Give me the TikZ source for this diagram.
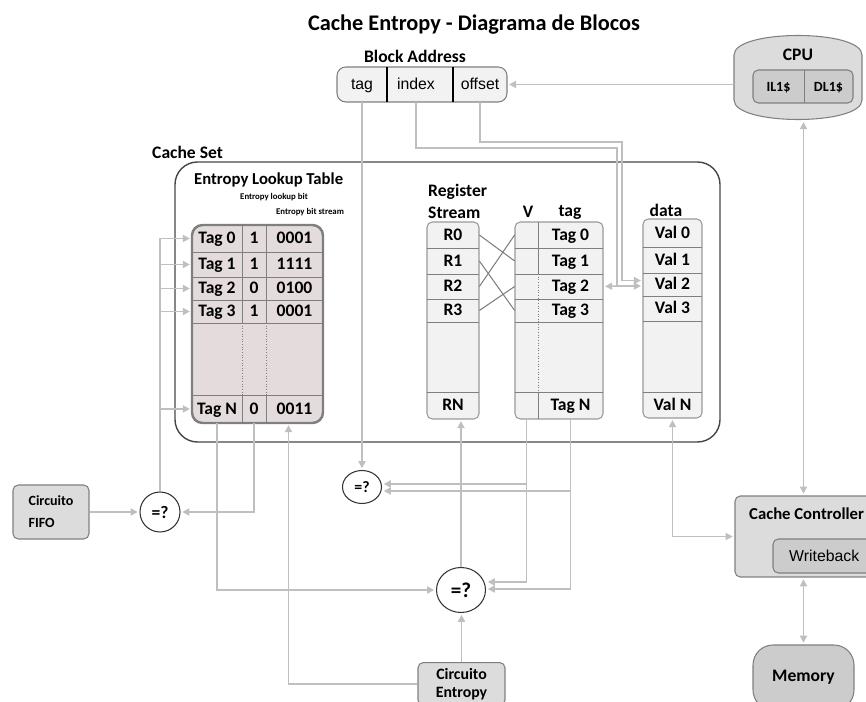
\documentclass[tikz,border=0pt]{standalone}
\usepackage{fontspec}
\setmainfont{Carlito}
\newfontfamily\arialf{Liberation Sans}
\usepackage{tikz}
\usetikzlibrary{shapes.geometric, arrows.meta, calc}
\definecolor{setacinza}{RGB}{191,191,191}
\definecolor{bordacinza}{RGB}{127,127,127}
\definecolor{fundoclaro}{RGB}{242,242,242}
\definecolor{fundocinza}{RGB}{220,220,220}
\definecolor{fundoescuro}{RGB}{204,204,204}
\definecolor{rosaclaro}{RGB}{228,220,220}
\definecolor{linhaescura}{RGB}{70,70,70}
\tikzset{
  seta/.style={setacinza, line width=0.9pt, shorten >=1pt, -{Triangle[length=4pt,width=4pt]}},
  setadupla/.style={seta, shorten <=1pt, {Triangle[length=4pt,width=4pt]}-{Triangle[length=4pt,width=4pt]}},
  fio/.style={setacinza, line width=0.9pt},
  cel/.style={inner sep=0pt, minimum width=#1, minimum height=0.4cm, text height=1.55ex, text depth=0.35ex},
  comp/.style={ellipse, draw=black!80, fill=white, inner sep=0pt, line width=0.6pt},
  caixa/.style={draw=bordacinza, fill=fundocinza, rounded corners=3pt, line width=0.6pt},
  grade/.style={bordacinza, line width=0.5pt},
}

\begin{document}
\begin{tikzpicture}[x=0.02cm, y=-0.02cm, font=\fontsize{10}{12.5}\selectfont\bfseries]
    \clip (0,0) rectangle (866,702);
    % titulo
    \node (titulo) at (474,25) {\fontsize{12.7}{15}\selectfont Cache Entropy - Diagrama de Blocos};
    % endereco do bloco
    \node (balbl) at (415,56) {Block Address};
    \draw[draw=bordacinza, fill=fundoclaro, rounded corners=5pt, line width=0.6pt] (337,67) rectangle (507,102);
    \draw[black, line width=1pt] (387,67) -- (387,102) (453,67) -- (453,102);
    \begin{scope}[font=\arialf\mdseries\fontsize{9}{11}\selectfont]
      \node[cel=1cm, minimum height=0.7cm] (bat) at (362,84.5) {tag};
      \node[cel=1.32cm, minimum height=0.7cm] (bai) at (416,84.5) {index};
      \node[cel=1.08cm, minimum height=0.7cm] (bao) at (480,84.5) {offset};
    \end{scope}
    % cpu
    \draw[draw=bordacinza, fill=fundocinza, line width=0.6pt] (734,55) -- (734,100) .. controls (734,126) and (862,126) .. (862,100) -- (862,55) .. controls (862,29) and (734,29) .. (734,55) -- cycle;
    \node[minimum width=2.56cm, minimum height=1.7cm] (cpu) at (798,77.5) {};
    \node (cpulbl) at (798,55) {CPU};
    \draw[draw=bordacinza, fill=fundoescuro, rounded corners=3pt, line width=0.6pt] (753,70) rectangle (853,103);
    \draw[grade] (804,70) -- (804,103);
    \node[cel=1.02cm, font=\fontsize{8}{10}\selectfont\bfseries] (il1) at (778.5,86.5) {IL1\$};
    \node[cel=0.98cm, font=\fontsize{8}{10}\selectfont\bfseries] (dl1) at (828.5,86.5) {DL1\$};
    % conjunto da cache
    \node[anchor=west] (cslbl) at (146,152) {Cache Set};
    \draw[linhaescura, line width=0.8pt, rounded corners=0.45cm] (175,162) rectangle (720,442);
    % tabela de entropia
    \node[anchor=west, font=\fontsize{9.5}{12}\selectfont\bfseries] (ltlbl) at (188,180) {Entropy Lookup Table};
    \node (ltbit) at (274,197) {\fontsize{5}{6}\selectfont Entropy lookup bit};
    \node (ltstr) at (310,212) {\fontsize{5}{6}\selectfont Entropy bit stream};
    \draw[draw=bordacinza, fill=rosaclaro, line width=1.4pt, rounded corners=6pt] (192,225) rectangle (323,423);
    \foreach \y in {252,277,300,323,395}
      \draw[grade] (192,\y) -- (323,\y);
    \foreach \x in {242,266} {
      \draw[grade] (\x,225) -- (\x,323) (\x,395) -- (\x,423);
      \draw[grade, densely dotted] (\x,323) -- (\x,395);
    }
    \foreach \n/\y/\b/\s in {0/238.5/1/0001, 1/264.5/1/1111, 2/288.5/0/0100, 3/311.5/1/0001} {
      \node[cel=1cm] (lt\n) at (217,\y) {Tag \n};
      \node[cel=0.48cm] (lb\n) at (254,\y) {\b};
      \node[cel=1.14cm] (ls\n) at (294.5,\y) {\s};
    }
    \node[cel=1cm, minimum height=0.56cm] (ltN) at (217,409) {Tag N};
    \node[cel=0.48cm, minimum height=0.56cm] (lbN) at (254,409) {0};
    \node[cel=1.14cm, minimum height=0.56cm] (lsN) at (294.5,409) {0011};
    % registradores, V e tag
    \node[anchor=west, align=left] (rslbl) at (422,201) {Register\\Stream};
    \node (vlbl) at (528,212) {V};
    \node (tlbl) at (570,212) {tag};
    \node (dlbl) at (666,210) {data};
    \draw[draw=bordacinza!80, fill=fundoclaro, rounded corners=3pt, line width=0.6pt] (427,222) rectangle (479,419);
    \draw[draw=bordacinza!80, fill=fundoclaro, rounded corners=3pt, line width=0.6pt] (515,222) rectangle (603,419);
    \draw[draw=bordacinza!80, fill=fundoclaro, rounded corners=3pt, line width=0.6pt] (643,219) rectangle (702,418);
    \foreach \y in {248,274,299,322,392}
      \draw[grade] (427,\y) -- (479,\y) (515,\y) -- (603,\y);
    \foreach \y in {247,273,296,321,392}
      \draw[grade] (643,\y) -- (702,\y);
    \draw[grade] (538,222) -- (538,274) (538,392) -- (538,419);
    \draw[grade, densely dotted] (538,274) -- (538,392);
    \foreach \n/\y/\yd in {0/235/233, 1/261/260, 2/286.5/284.5, 3/310.5/308.5} {
      \node[cel=1.04cm] (rs\n) at (453,\y) {R\n};
      \node[cel=0.46cm] (v\n) at (526.5,\y) {};
      \node[cel=1.3cm] (t\n) at (570.5,\y) {Tag \n};
      \node[cel=1.18cm] (d\n) at (672.5,\yd) {Val \n};
    }
    \node[cel=1.04cm, minimum height=0.54cm] (rsN) at (453,405.5) {RN};
    \node[cel=0.46cm, minimum height=0.54cm] (vN) at (526.5,405.5) {};
    \node[cel=1.3cm, minimum height=0.54cm] (tN) at (570.5,405.5) {Tag N};
    \node[cel=1.18cm, minimum height=0.52cm] (dN) at (672.5,405) {Val N};
    % cruzamento dos registradores
    \foreach \a/\b in {0/1, 1/3, 2/0, 3/2}
      \draw[bordacinza, line width=0.6pt] (rs\a.east) -- (v\b.west);
    % comparadores e circuitos
    \node[comp, minimum width=0.8cm, minimum height=0.8cm] (cmpf) at (160,512) {=?};
    \node[comp, minimum width=0.78cm, minimum height=0.66cm, font=\fontsize{9}{10}\selectfont\bfseries] (cmpt) at (362,487) {=?};
    \node[comp, minimum width=0.98cm, minimum height=0.9cm, font=\fontsize{12}{14}\selectfont\bfseries] (cmpb) at (461,590) {=?};
    \node[caixa, minimum width=1.52cm, minimum height=1.08cm, align=left, font=\fontsize{8}{12.5}\selectfont\bfseries] (fifo) at (51,512) {Circuito\\FIFO};
    \node[caixa, minimum width=1.74cm, minimum height=0.8cm, align=center, font=\fontsize{9}{10}\selectfont\bfseries] (ce) at (461.5,684) {Circuito\\Entropy};
    % controlador e memoria
    \node[caixa, minimum width=2.9cm, minimum height=1.62cm] (cc) at (807.5,536.5) {};
    \node[anchor=west, font=\fontsize{9.5}{12}\selectfont\bfseries] (cclbl) at (743,514) {Cache Controller};
    \node[draw=bordacinza, fill=fundoescuro, rounded corners=3pt, line width=0.6pt, minimum width=2.14cm, minimum height=0.68cm] (wb) at (826.5,556) {};
    \node[anchor=west, font=\arialf\mdseries\fontsize{9}{11}\selectfont] (wblbl) at (783,556) {Writeback};
    \node[draw=bordacinza, fill=fundoescuro, rounded corners=0.4cm, line width=0.6pt, minimum width=2.02cm, minimum height=1.3cm] (mem) at (803.5,677.5) {Memory};
    % ligacoes do endereco
    \coordinate (nidx) at (617,286);
    \draw[seta] (cpu.west |- bao.east) -- (bao.east);
    \draw[seta] (bat.south) -- (cmpt.north);
    \draw[fio] (bai.south) |- (617,148) -- (nidx);
    \draw[seta] (nidx) -- (t2.east);
    \draw[seta] (nidx) -- (d2.west |- nidx);
    \draw[seta] (bao.south) |- (622,142) |- ($(d2.west)+(0,-4)$);
    % ligacoes da tabela de entropia
    \draw[fio] (cmpf.north) -- (cmpf.north |- lt0.west);
    \foreach \r in {0,1,2,3,N}
      \draw[seta] (cmpf.north |- lt\r.west) -- (lt\r.west);
    \draw[seta] (fifo) -- (cmpf);
    \draw[seta] (lbN.south) |- (cmpf.east);
    \draw[seta] (ltN.south) |- (cmpb.west);
    \draw[seta] (ce.west) -| ($(lsN.south)+(-6,0)$);
    % ligacoes dos comparadores
    \draw[seta] (vN.south) |- ($(cmpt.east)+(0,-3)$);
    \draw[seta] (tN.south) |- ($(cmpt.east)+(0,4)$);
    \draw[seta] (vN.south) |- ($(cmpb.east)+(0,-8)$);
    \draw[seta] (tN.south) |- ($(cmpb.east)+(0,-1)$);
    \draw[seta] (cmpb.north) -- (cmpb.north |- rsN.south);
    \draw[seta] (ce.north) -- (ce.north |- cmpb.south);
    % controlador
    \draw[setadupla] (dN.south) |- (cc.west);
    \draw[setadupla] (cpu.south -| mem.north) -- (mem.north |- cc.north);
    \draw[setadupla] (cc.south -| mem.north) -- (mem.north);
\end{tikzpicture}
\end{document}
